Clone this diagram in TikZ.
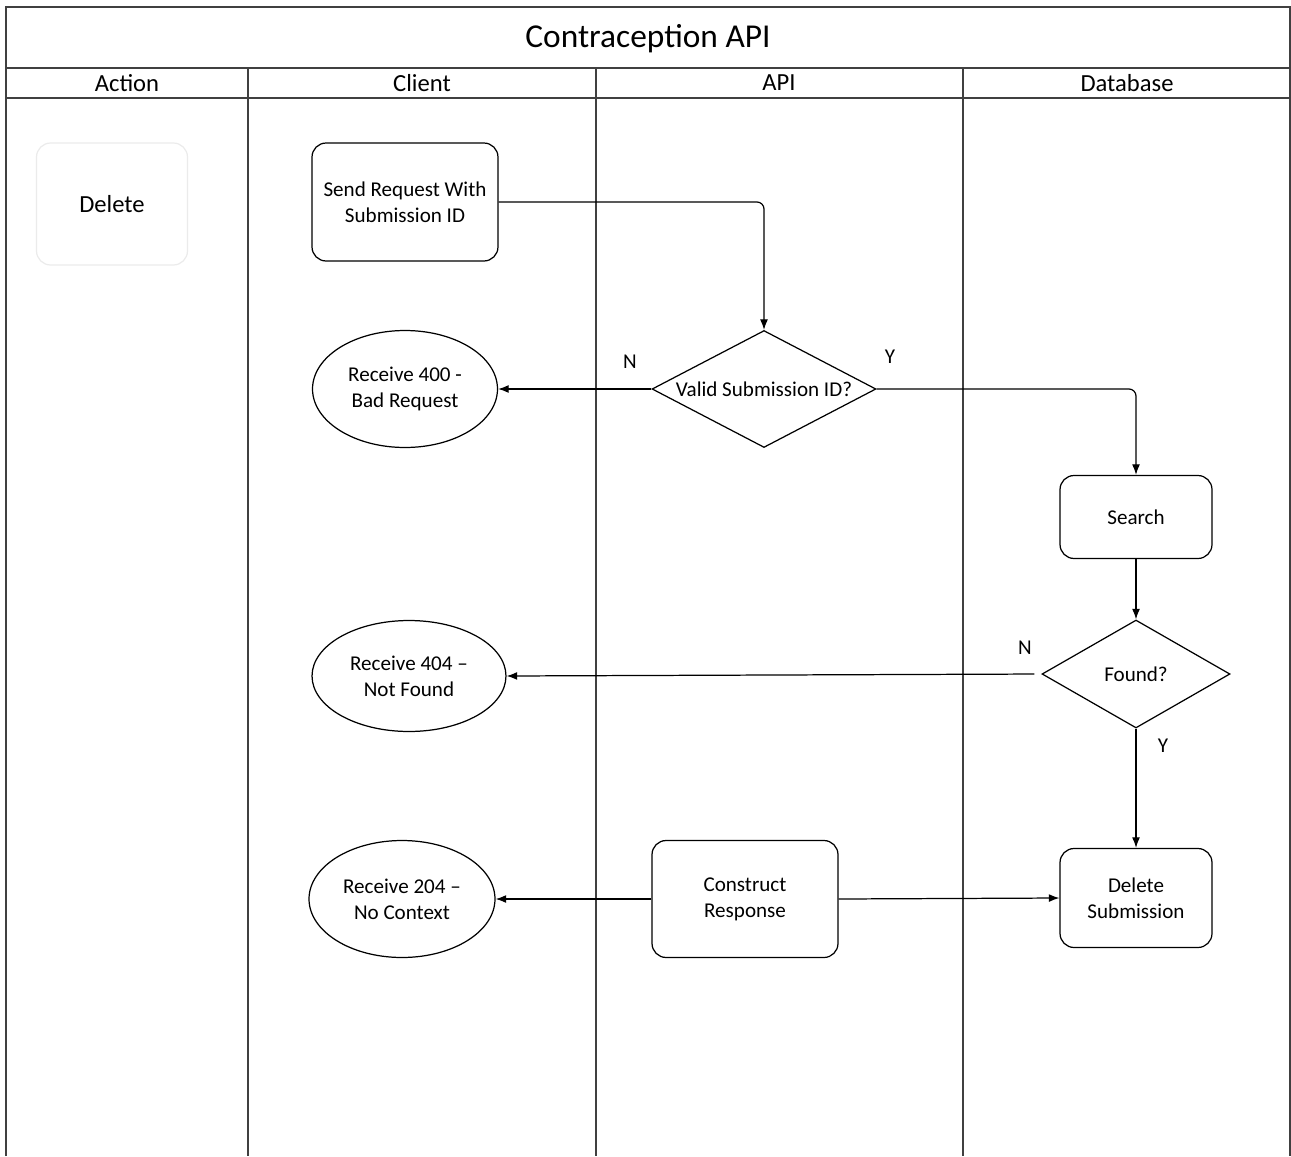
\documentclass[tikz,border=0pt]{standalone}
\usepackage{fontspec}
\setmainfont{Carlito}
\usetikzlibrary{shapes.geometric,arrows.meta,positioning}
\tikzstyle{lane} = [draw=black!75, line width=0.8pt]
\tikzstyle{process} = [draw, line width=0.7pt,
                      rectangle, rounded corners=8pt,
                      inner sep=0pt, align=center,
                      font=\fontsize{12}{14.7}\selectfont]
\tikzstyle{actionbox} = [process, draw=black!8, font=\fontsize{14}{16}\selectfont]
\tikzstyle{decision} = [process, diamond, sharp corners, aspect=1.9]
\tikzstyle{result} = [process, ellipse, sharp corners]
\tikzstyle{flow} = [draw, line width=0.7pt, rounded corners=4pt,
                   -{Latex[length=6pt,width=4.5pt]}]
\tikzstyle{lbl} = [font=\fontsize{12}{14}\selectfont]
\tikzstyle{head} = [font=\fontsize{14}{16}\selectfont]

\begin{document}
\begin{tikzpicture}[x=0.02cm, y=-0.02cm]%
  \useasboundingbox (0,0) rectangle (1291,1156);
  % pool and lanes
  \draw[lane] (6,1156) -- (6,7) -- (1290,7) -- (1290,1156);
  \draw[lane] (6,68) -- (1290,68);
  \draw[lane] (6,98) -- (1290,98);
  \foreach \x in {248,596,963}
    \draw[lane] (\x,68) -- (\x,1156);
  \node[font=\fontsize{19}{22}\selectfont] (title) at (648,39) {Contraception API};
  \node[head] (hAction) at (127,83) {Action};
  \node[head] (hClient) at (422,83) {Client};
  \node[head] (hApi) at (779,83) {API};
  \node[head] (hDb) at (1127,83) {Database};

  % steps
  \node[actionbox, minimum width=3.02cm, minimum height=2.44cm] (del) at (112,204) {Delete};
  \node[process, minimum width=3.72cm, minimum height=2.36cm] (send) at (405,202)
    {Send Request With\\Submission ID};
  \node[decision, minimum width=4.48cm, minimum height=2.34cm] (valid) at (764,389)
    {Valid Submission ID?};
  \node[result, minimum width=3.7cm, minimum height=2.34cm] (r400) at (405,389)
    {Receive 400 -\\Bad Request};
  \node[process, minimum width=3.04cm, minimum height=1.66cm] (search) at (1136,517) {Search};
  \node[decision, minimum width=3.76cm, minimum height=2.16cm] (found) at (1136,674) {Found?};
  \node[result, minimum width=3.88cm, minimum height=2.22cm] (r404) at (409,676)
    {Receive 404 –\\Not Found};
  \node[process, minimum width=3.04cm, minimum height=1.98cm] (delsub) at (1136,898)
    {Delete\\Submission};
  \node[process, minimum width=3.72cm, minimum height=2.34cm] (construct) at (745,899)
    {Construct\\Response};
  \node[result, minimum width=3.72cm, minimum height=2.34cm] (r204) at (402,899)
    {Receive 204 –\\No Context};

  % connectors
  \draw[flow] (send.east) -| (valid.north);
  \draw[flow] (valid.west) -- (r400.east);
  \draw[flow] (valid.east) -| (search.north);
  \draw[flow] (search.south) -- (found.north);
  \draw[flow, shorten <=4pt] (found.west) -- (r404.east);
  \draw[flow] (found.south) -- (delsub.north);
  \draw[flow] (construct.east) -- (delsub.west);
  \draw[flow] (construct.west) -- (r204.east);
  \node[lbl] (n1) at (630,362) {N};
  \node[lbl] (y1) at (890,357) {Y};
  \node[lbl] (n2) at (1025,648) {N};
  \node[lbl] (y2) at (1163,746) {Y};
\end{tikzpicture}
\end{document}
